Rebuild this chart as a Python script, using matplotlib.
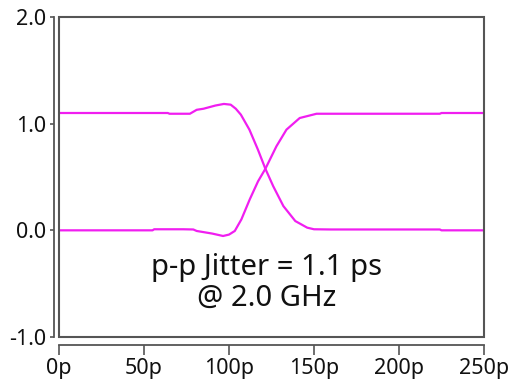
import matplotlib
matplotlib.use("Agg")
import matplotlib.pyplot as plt
from matplotlib.patches import Rectangle

# Data (time in ps, amplitude in V)
fall_t = [0, 64, 65, 77, 81, 85, 92, 97, 101, 104, 107, 112, 117, 121.4, 126, 132, 139, 146, 150, 160, 224, 225, 250]
fall_v = [1.10, 1.10, 1.093, 1.093, 1.13, 1.14, 1.17, 1.185, 1.178, 1.14, 1.084, 0.944, 0.757, 0.577, 0.414, 0.227, 0.087, 0.025, 0.01, 0.008, 0.008, 0.0, 0.0]

rise_t = [0, 55, 56, 73, 79, 81, 90, 96.5, 100, 103.4, 107.3, 112.2, 117.1, 121.4, 127.9, 133.8, 141.6, 151.5, 161, 224, 225, 250]
rise_v = [0.0, 0.0, 0.01, 0.01, 0.008, -0.006, -0.03, -0.053, -0.04, -0.006, 0.103, 0.29, 0.46, 0.577, 0.788, 0.944, 1.053, 1.093, 1.093, 1.093, 1.10, 1.10]

x_ticks = [0, 50, 100, 150, 200, 250]
x_labels = ["0p", "50p", "100p", "150p", "200p", "250p"]
y_ticks = [-1.0, 0.0, 1.0, 2.0]
y_labels = ["-1.0", "0.0", "1.0", "2.0"]
note_lines = ["p-p Jitter = 1.1 ps", "@ 2.0 GHz"]

plt.rcParams['font.family'] = ['Noto Sans', 'DejaVu Sans']

fig = plt.figure(figsize=(5.09, 3.83), dpi=100)
ax = fig.add_axes([59 / 509, 1 - 337 / 383, (484 - 59) / 509, (337 - 17) / 383])

trace_color = '#f01ef0'
ax.plot(fall_t, fall_v, color=trace_color, lw=1.6, solid_capstyle='butt', clip_on=False)
ax.plot(rise_t, rise_v, color=trace_color, lw=1.6, solid_capstyle='butt', clip_on=False)

ax.set_xlim(0, 250)
ax.set_ylim(-1, 2)

spine_c = '#555555'
for s in ['top', 'right']:
    ax.spines[s].set_visible(False)
ax.spines['left'].set_position(('outward', 3.5))
ax.spines['bottom'].set_position(('outward', 5.5))
for s in ['left', 'bottom']:
    ax.spines[s].set_color(spine_c)
    ax.spines[s].set_linewidth(1.3)

ax.add_patch(Rectangle((0, 0), 1, 1, transform=ax.transAxes, fill=False,
                       edgecolor=spine_c, lw=1.5, clip_on=False, zorder=5))

ax.set_xticks(x_ticks)
ax.set_xticklabels(x_labels)
ax.set_yticks(y_ticks)
ax.set_yticklabels(y_labels)
ax.tick_params(axis='x', direction='out', length=7, width=1.2, color=spine_c,
               labelsize=15.5, labelcolor='#111111', pad=2.5)
ax.tick_params(axis='y', direction='out', length=3, width=1.2, color=spine_c,
               labelsize=15.5, labelcolor='#111111', pad=2.5)

ax.text(122, -0.42, note_lines[0], ha='center', va='baseline', fontsize=21, color='#111111')
ax.text(122, -0.71, note_lines[1], ha='center', va='baseline', fontsize=21, color='#111111')

fig.savefig('out.png', dpi=100)
